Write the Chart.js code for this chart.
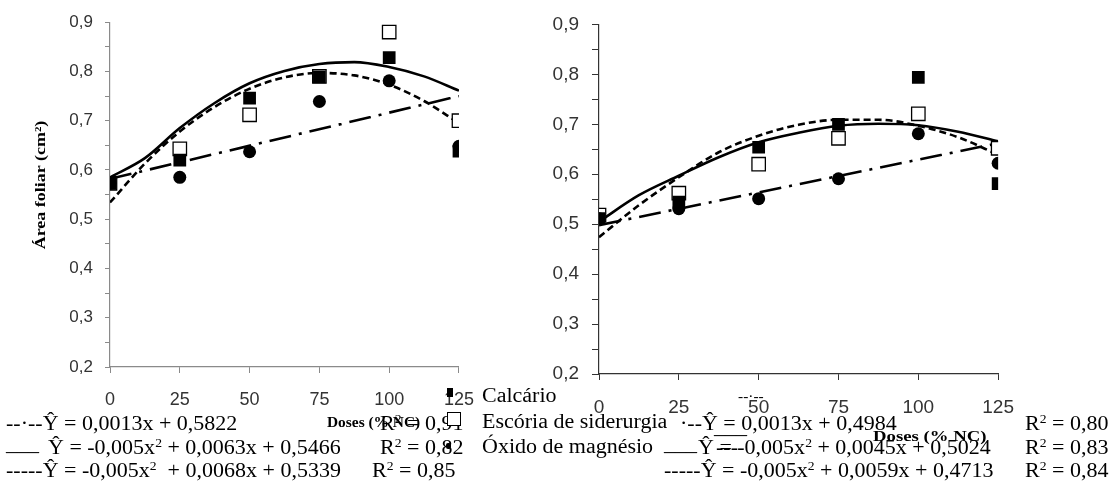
<!DOCTYPE html>
<html lang="pt">
<head>
<meta charset="UTF-8">
<title>Área foliar em função das doses</title>
<script src="https://cdn.jsdelivr.net/npm/chart.js"></script>
<style>
    body {
        margin: 0;
        width: 1120px;
        height: 492px;
        background: #fff;
        position: relative;
        overflow: hidden;
    }
    canvas { position: absolute; top: 0; }
    #left { left: 0; }
    #right { left: 500px; }

    /* texts under the plots */
    .t {
        position: absolute;
        white-space: nowrap;
        font-family: "Liberation Serif", "Times New Roman", serif;
        font-size: 20px;
        line-height: 20px;
        color: #000;
        transform: scaleX(1.1);
        transform-origin: 0 50%;
    }
    .t sup { font-size: 0.62em; line-height: 0; vertical-align: 0.6em; }
    .doses { font-weight: bold; font-size: 14px; line-height: 14px; }
    .small { font-size: 14px; line-height: 14px; }
    .ytitle {
        position: absolute;
        width: 200px; height: 18px;
        left: -60px; top: 176px;
        text-align: center;
        font-family: "Liberation Serif", "Times New Roman", serif;
        font-weight: bold; font-size: 15px; line-height: 18px;
        transform: rotate(-90deg) scaleX(1.2);
    }
    .mk { position: absolute; background: #000; }
</style>
</head>
<body>
    <canvas id="left" width="490" height="420"></canvas>
    <canvas id="right" width="530" height="430"></canvas>

    <div class="ytitle">Área foliar (cm²)</div>

    <!-- left panel equations -->
    <div class="t" style="left:6px; top:413px;">--·--Ŷ = 0,0013x + 0,5822</div>
    <div class="t doses" style="left:327px; top:416px;">Doses (% NC)</div>
    <div class="t" style="left:380px; top:413px;">R<sup>2</sup> = 0,91</div>
    <div class="t" style="left:6px; top:433px;">___</div>
    <div class="t" style="left:48px; top:437px;">Ŷ = -0,005x<sup>2</sup> + 0,0063x + 0,5466</div>
    <div class="t" style="left:380px; top:437px;">R<sup>2</sup> = 0,82</div>
    <div class="t" style="left:6px; top:460px;">-----Ŷ = -0,005x<sup>2</sup>&nbsp; + 0,0068x + 0,5339</div>
    <div class="t" style="left:372px; top:460px;">R<sup>2</sup> = 0,85</div>

    <!-- legend -->
    <div class="mk" style="left:447px; top:388px; width:6px; height:9px;"></div>
    <div class="mk" style="left:447px; top:412px; width:14px; height:14px; background:#fff; border:1.5px solid #000; box-sizing:border-box;"></div>
    <div class="mk" style="left:446px; top:443px; width:5px; height:6px; border-radius:2px;"></div>
    <div class="t" style="left:482px; top:385px;">Calcário</div>
    <div class="t" style="left:482px; top:411px;">Escória de siderurgia</div>
    <div class="t" style="left:482px; top:436px;">Óxido de magnésio</div>

    <!-- right panel equations -->
    <div class="t small" style="left:738px; top:390px;">--·--</div>
    <div class="t" style="left:680px; top:413px;">·--Ŷ = 0,0013x + 0,4984</div>
    <div class="t" style="left:714px; top:416px;">___</div>
    <div class="t doses" style="left:873px; top:429px; font-size:15px; transform:scaleX(1.25);">Doses (% NC)</div>
    <div class="t" style="left:1025px; top:413px;">R<sup>2</sup> = 0,80</div>
    <div class="t" style="left:664px; top:433px;">___</div>
    <div class="t" style="left:698px; top:437px;">Ŷ = -0,005x<sup>2</sup> + 0,0045x + 0,5024</div>
    <div class="t" style="left:716px; top:437px;">---</div>
    <div class="t" style="left:1025px; top:437px;">R<sup>2</sup> = 0,83</div>
    <div class="t" style="left:664px; top:460px;">-----Ŷ = -0,005x<sup>2</sup> + 0,0059x + 0,4713</div>
    <div class="t" style="left:1025px; top:460px;">R<sup>2</sup> = 0,84</div>

<script>
    // doses (% NC)
    const doses = [0, 25, 50, 75, 100, 125];
    const curveDoses = [0, 12.5, 25, 37.5, 50, 62.5, 75, 87.5, 100, 112.5, 125];
    const lineDoses = [0, 125];

    // left panel - observed means
    const calcarioA = [0.573, 0.620, 0.746, 0.789, 0.828, 0.638];
    const escoriaA = [0.573, 0.643, 0.712, 0.790, 0.880, 0.700];
    const oxidoA = [0.573, 0.585, 0.637, 0.739, 0.781, 0.648];
    // left panel - fitted curves
    const solidA = [0.585, 0.624, 0.685, 0.736, 0.776, 0.801, 0.815, 0.819, 0.809, 0.790, 0.761];
    const dashedA = [0.534, 0.613, 0.678, 0.728, 0.765, 0.788, 0.797, 0.792, 0.773, 0.740, 0.695];
    const dashDotA = [0.582, 0.750];

    // right panel - observed means
    const calcarioB = [0.511, 0.544, 0.654, 0.700, 0.794, 0.581];
    const escoriaB = [0.518, 0.562, 0.620, 0.672, 0.721, 0.652];
    const oxidoB = [0.511, 0.531, 0.551, 0.591, 0.681, 0.622];
    // right panel - fitted curves
    const solidB = [0.505, 0.558, 0.597, 0.634, 0.664, 0.683, 0.697, 0.701, 0.698, 0.685, 0.666];
    const dashedB = [0.474, 0.538, 0.594, 0.644, 0.677, 0.699, 0.709, 0.709, 0.697, 0.674, 0.639];
    const dashDotB = [0.498, 0.662];

    Chart.defaults.font.family = '"Liberation Sans", Arial, sans-serif';

    function pts(xs, ys) {
        return xs.map((x, i) => ({ x: x, y: ys[i] }));
    }

    function yLabel(v) {
        const r = Math.round(v * 100);
        return r % 10 === 0 ? (r / 100).toFixed(1).replace('.', ',') : '';
    }

    function drawPanel(id, p) {
        const line = { showLine: true, pointRadius: 0, borderColor: '#000', borderWidth: 2.6,
                       cubicInterpolationMode: 'monotone', order: 10 };
        return new Chart(document.getElementById(id), {
            type: 'scatter',
            data: {
                datasets: [
                    Object.assign({ data: pts(curveDoses, p.solid) }, line),
                    Object.assign({ data: pts(curveDoses, p.dashed), borderDash: [7, 4] }, line),
                    Object.assign({ data: pts(lineDoses, p.dashDot), borderDash: [22, 8, 3, 8] }, line),
                    { label: 'Escória de siderurgia', data: pts(doses, p.escoria), pointStyle: 'rect',
                      pointRadius: 9.5, backgroundColor: '#fff', borderColor: '#000', borderWidth: 1.3, order: 3 },
                    { label: 'Óxido de magnésio', data: pts(doses, p.oxido), pointStyle: 'circle',
                      pointRadius: 6.5, backgroundColor: '#000', borderWidth: 0, order: 2 },
                    { label: 'Calcário', data: pts(doses, p.calcario), pointStyle: 'rect',
                      pointRadius: 9, backgroundColor: '#000', borderWidth: 0, order: 1 }
                ]
            },
            options: {
                responsive: false,
                animation: false,
                devicePixelRatio: 1,
                layout: { padding: { top: p.top, right: p.right, left: 0, bottom: 0 } },
                plugins: { legend: { display: false }, tooltip: { enabled: false } },
                scales: {
                    x: {
                        type: 'linear', min: 0, max: 125,
                        ticks: { stepSize: 25, autoSkip: false, maxRotation: 0, color: '#333',
                                 font: { size: p.fontX }, padding: p.padX },
                        grid: { drawOnChartArea: false, tickLength: 6, color: p.axis },
                        border: { color: p.axis, width: 1.2 },
                        afterFit: s => { s.height = p.xh; }
                    },
                    y: {
                        min: 0.2, max: 0.9,
                        ticks: { stepSize: 0.05, autoSkip: false, color: '#333', callback: yLabel,
                                 font: { size: p.fontY }, padding: p.padY },
                        grid: { drawOnChartArea: false, tickLength: p.tickY, color: p.axis },
                        border: { color: p.axis, width: 1.2 },
                        afterFit: s => { s.width = p.yw; }
                    }
                }
            }
        });
    }

    drawPanel('left', {
        calcario: calcarioA, escoria: escoriaA, oxido: oxidoA,
        solid: solidA, dashed: dashedA, dashDot: dashDotA,
        top: 20, right: 30, yw: 110, xh: 53, axis: '#8a8a8a',
        fontX: 18, fontY: 17, padX: 16, padY: 12, tickY: 5
    });

    drawPanel('right', {
        calcario: calcarioB, escoria: escoriaB, oxido: oxidoB,
        solid: solidB, dashed: dashedB, dashDot: dashDotB,
        top: 23, right: 30, yw: 99, xh: 56, axis: '#333',
        fontX: 19, fontY: 19, padX: 16, padY: 13, tickY: 7
    });
</script>
</body>
</html>
